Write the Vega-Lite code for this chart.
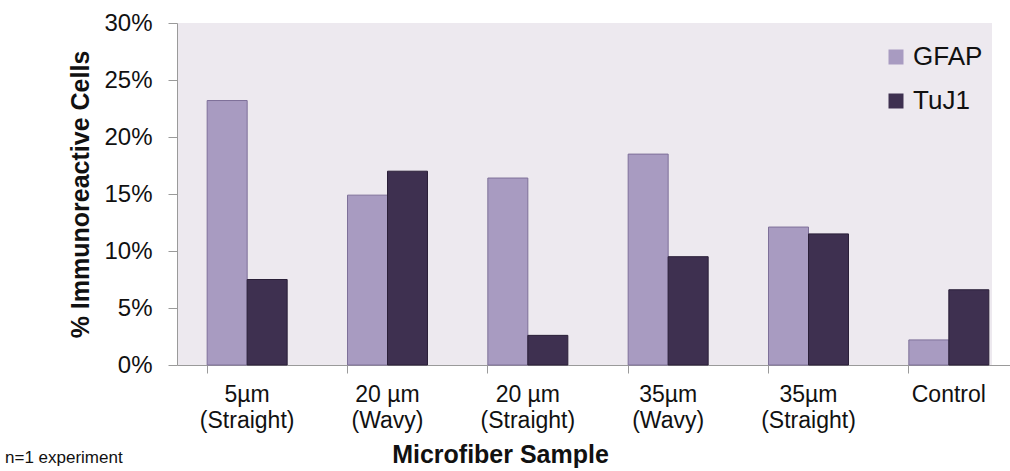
{
  "$schema": "https://vega.github.io/schema/vega-lite/v6.json",
  "autosize": "none",
  "width": 815,
  "height": 342,
  "padding": {"left": 177, "top": 23, "right": 18, "bottom": 106},
  "background": "#ffffff",
  "config": {
    "font": "Liberation Sans",
    "view": {"fill": "#EDE9EF", "stroke": null}
  },
  "title": {
    "text": "n=1 experiment",
    "orient": "bottom",
    "anchor": "start",
    "frame": "group",
    "dx": -172,
    "offset": -17,
    "fontSize": 17,
    "fontWeight": "normal",
    "color": "#111111"
  },
  "data": {
    "values": [
      {"sample": "5µm|(Straight)", "marker": "GFAP", "value": 0.232},
      {"sample": "5µm|(Straight)", "marker": "TuJ1", "value": 0.075},
      {"sample": "20 µm|(Wavy)", "marker": "GFAP", "value": 0.149},
      {"sample": "20 µm|(Wavy)", "marker": "TuJ1", "value": 0.170},
      {"sample": "20 µm|(Straight)", "marker": "GFAP", "value": 0.164},
      {"sample": "20 µm|(Straight)", "marker": "TuJ1", "value": 0.026},
      {"sample": "35µm|(Wavy)", "marker": "GFAP", "value": 0.185},
      {"sample": "35µm|(Wavy)", "marker": "TuJ1", "value": 0.095},
      {"sample": "35µm|(Straight)", "marker": "GFAP", "value": 0.121},
      {"sample": "35µm|(Straight)", "marker": "TuJ1", "value": 0.115},
      {"sample": "Control", "marker": "GFAP", "value": 0.022},
      {"sample": "Control", "marker": "TuJ1", "value": 0.066}
    ]
  },
  "layer": [
    {
      "mark": {"type": "bar", "strokeWidth": 1},
      "encoding": {
        "x": {
          "field": "sample", "type": "nominal", "sort": null,
          "scale": {"range": [0, 842], "paddingInner": 0.43, "paddingOuter": 0.215},
          "axis": {
            "title": "Microfiber Sample",
            "titleFontSize": 25, "titleFontWeight": "bold", "titleColor": "#111111",
            "titlePadding": 10, "titleX": 323, "titleAlign": "center",
            "labelExpr": "split(datum.label, '|')",
            "labelFontSize": 23, "labelColor": "#111111", "labelPadding": 10,
            "labelLineHeight": 26, "labelAngle": 0, "labelBaseline": "top",
            "bandPosition": 0, "tickSize": 8, "tickColor": "#9A9A9A",
            "domainColor": "#9A9A9A", "grid": false
          }
        },
        "xOffset": {"field": "marker", "type": "nominal", "scale": {"paddingInner": 0}},
        "y": {
          "field": "value", "type": "quantitative",
          "scale": {"domain": [0, 0.3], "nice": false},
          "axis": {
            "title": "% Immunoreactive Cells",
            "titleFontSize": 25, "titleFontWeight": "bold", "titleColor": "#111111",
            "titlePadding": 10,
            "format": ".0%", "values": [0, 0.05, 0.1, 0.15, 0.2, 0.25, 0.3],
            "labelFontSize": 24, "labelColor": "#111111", "labelPadding": 16,
            "tickSize": 9, "tickColor": "#9A9A9A", "domainColor": "#9A9A9A", "grid": false
          }
        },
        "color": {
          "field": "marker", "type": "nominal",
          "scale": {"domain": ["GFAP", "TuJ1"], "range": ["#A89BC1", "#3E3050"]},
          "legend": {
            "title": null, "orient": "none", "legendX": 706, "legendY": 21, "padding": 0,
            "symbolType": "square", "symbolSize": 225, "symbolStrokeWidth": 0,
            "labelFontSize": 26, "labelColor": "#111111", "rowPadding": 18, "labelOffset": 4
          }
        },
        "stroke": {
          "field": "marker", "type": "nominal",
          "scale": {"domain": ["GFAP", "TuJ1"], "range": ["#7E7099", "#2A1F38"]},
          "legend": null
        }
      }
    }
  ]
}
